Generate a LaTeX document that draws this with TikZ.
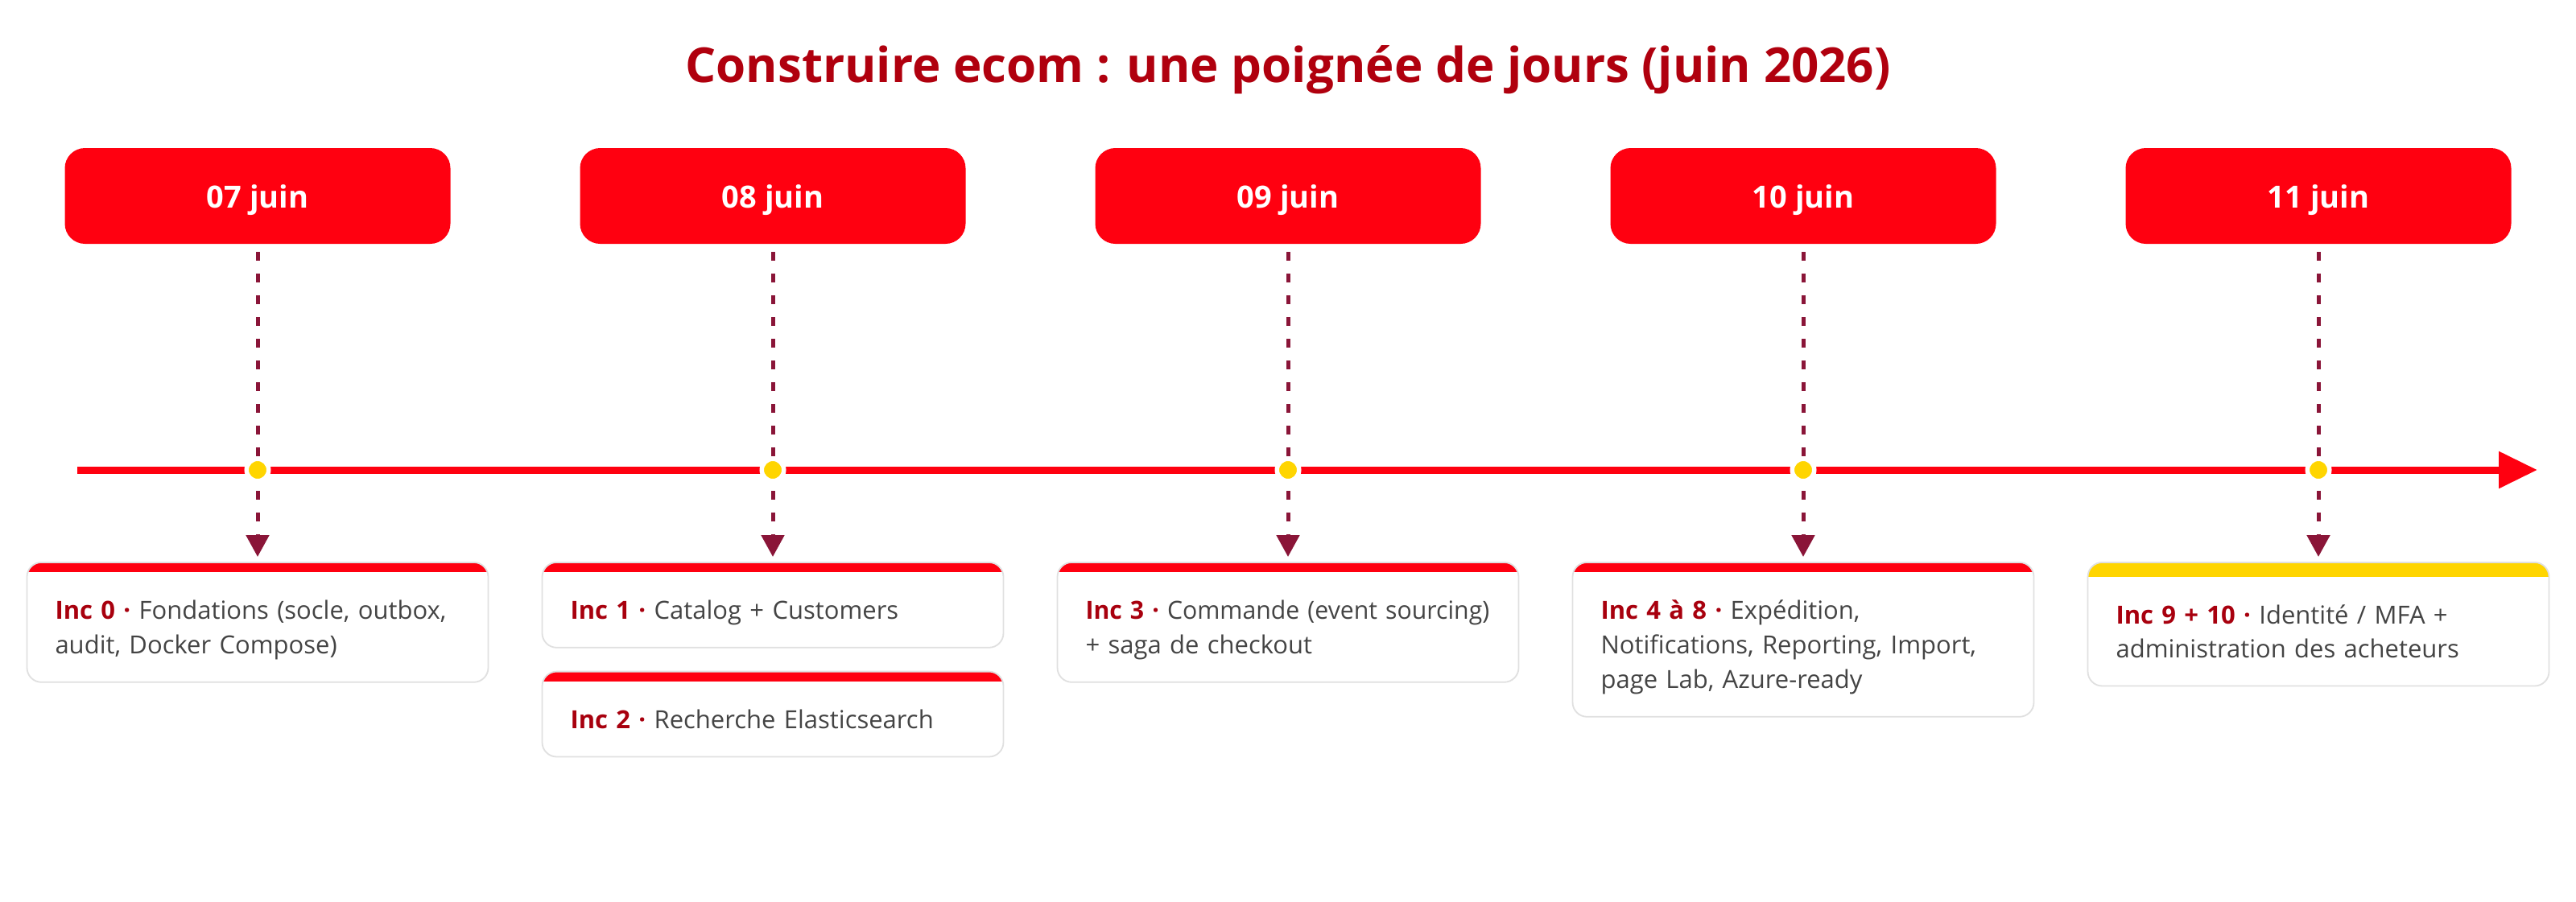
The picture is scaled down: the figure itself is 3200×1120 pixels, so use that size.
\documentclass[tikz,border=0pt]{standalone}
\usepackage{fontspec}
\usepackage{graphicx}
\setmainfont{Open Sans}
\usetikzlibrary{positioning, arrows.meta}
\definecolor{tlred}{HTML}{FF0010}
\definecolor{incred}{HTML}{A8000E}
\definecolor{titlered}{HTML}{B0000E}
\definecolor{linkred}{HTML}{8A1538}
\definecolor{tlyellow}{HTML}{FFD500}
\definecolor{bodygray}{HTML}{444444}
\definecolor{cardline}{HTML}{E0E0E0}

\begin{document}
\begin{tikzpicture}[x=0.5pt, y=-0.5pt,
    datebox/.style={fill=tlred, rounded corners=12.5pt, minimum width=239.5pt, minimum height=59.5pt,
        text=white, font=\bfseries\fontsize{19}{23}\selectfont, text height=14.5pt, text depth=0pt},
    card/.style={anchor=north, draw=cardline, line width=0.9pt, fill=white, rounded corners=9pt,
        text width=251.5pt, inner xsep=17.5pt, inner ysep=11pt, align=left, text=bodygray,
        font=\fontsize{15.5}{21.5}\selectfont,
        path picture={\fill[tlred, sharp corners] (path picture bounding box.north west) rectangle ([yshift=-6pt]path picture bounding box.north east);},
        execute at begin node={\rule{0pt}{24.5pt}}, execute at end node={\strut}},
    goldcard/.style={card, font=\fontsize{15.5}{21}\selectfont,
        path picture={\fill[tlyellow, sharp corners] (path picture bounding box.north west) rectangle ([yshift=-9pt]path picture bounding box.north east);},
        execute at begin node={\rule{0pt}{27.5pt}}},
    link/.style={linkred, line width=2.5pt, dash pattern=on 5.5pt off 8pt, shorten <=5pt, shorten >=3pt,
        -{Triangle[length=13.5pt, width=14pt]}},
    dot/.style={circle, fill=tlyellow, draw=white, line width=2.75pt, minimum size=13.75pt, inner sep=0pt}]

    \useasboundingbox[fill=white] (0, 0) rectangle (3200, 1120);

    % titre
    \node[anchor=base, text=titlered, font=\bfseries\fontsize{30}{36}\selectfont] (title) at (1600, 102) {Construire ecom : une poignée de jours (juin 2026)};

    % dates
    \node[datebox] (d0) at (320, 243.5) {07 juin};
    \node[datebox] (d1) at (960, 243.5) {08 juin};
    \node[datebox] (d2) at (1600, 243.5) {09 juin};
    \node[datebox] (d3) at (2240, 243.5) {10 juin};
    \node[datebox] (d4) at (2880, 243.5) {11 juin};

    % increments
    \node[card] (c0) at (320, 698) {\textcolor{incred}{\bfseries Inc 0 ·} Fondations (socle, outbox,\\ audit, Docker Compose)};
    \node[card] (c1) at (960, 698) {\textcolor{incred}{\bfseries Inc 1 ·} Catalog + Customers};
    \node[card, below=14pt of c1] (c2) {\textcolor{incred}{\bfseries Inc 2 ·} Recherche Elasticsearch};
    \node[card] (c3) at (1600, 698) {\scalebox{0.975}[1]{\textcolor{incred}{\bfseries Inc 3 ·} Commande (event sourcing)}\\ + saga de checkout};
    \node[card] (c4) at (2240, 698) {\textcolor{incred}{\bfseries Inc 4 à 8 ·} Expédition,\\ Notifications, Reporting, Import,\\ page Lab, Azure-ready};
    \node[goldcard] (c5) at (2880, 698) {\textcolor{incred}{\bfseries Inc 9 + 10 ·} Identité / MFA +\\ administration des acheteurs};

    \draw[link] (d0.south) -- (c0.north);
    \draw[link] (d1.south) -- (c1.north);
    \draw[link] (d2.south) -- (c3.north);
    \draw[link] (d3.south) -- (c4.north);
    \draw[link] (d4.south) -- (c5.north);

    % axe du temps
    \coordinate (tlstart) at (96, 584);
    \coordinate (tlend) at (3152, 584);
    \draw[tlred, line width=4.5pt, -{Triangle[length=24pt, width=22pt]}] (tlstart) -- (tlend);
    \node[dot] (p0) at (320, 584) {};
    \node[dot] (p1) at (960, 584) {};
    \node[dot] (p2) at (1600, 584) {};
    \node[dot] (p3) at (2240, 584) {};
    \node[dot] (p4) at (2880, 584) {};
\end{tikzpicture}
\end{document}
